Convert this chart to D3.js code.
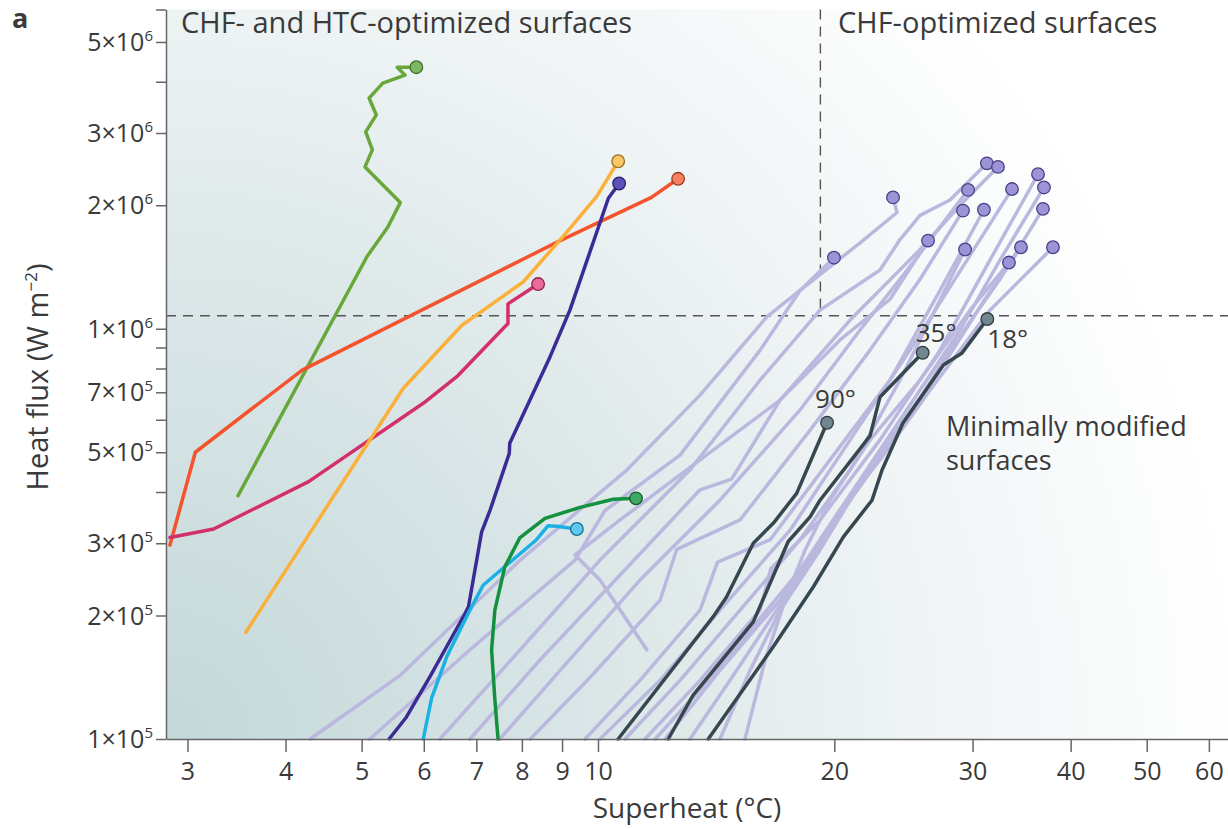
<!DOCTYPE html>
<html>
<head>
<meta charset="utf-8">
<script src="https://cdn.jsdelivr.net/npm/d3@7/dist/d3.min.js"></script>
<style>
  body { margin: 0; background: #fff; }
  svg text { font-family: "Open Sans", sans-serif; fill: #3a3a3a; }
</style>
</head>
<body>
<svg id="chart" width="1228" height="829"></svg>
<script>
// superheat (°C), heat flux (W m^-2)
const xTickValues = [3, 4, 5, 6, 7, 8, 9, 10, 20, 30, 40, 50, 60];
const yMajorTicks = [1e5, 2e5, 3e5, 5e5, 7e5, 1e6, 2e6, 3e6, 5e6];
const yMinorTicks = [4e5, 6e5, 8e5, 9e5, 4e6, 6e6];

// CHF- and HTC-optimized surfaces
const greenLight = [[3.48,3.92e5],[5.08,1.5e6],[5.40,1.77e6],[5.60,2.03e6],[5.05,2.48e6],[5.16,2.73e6],[5.06,3.02e6],[5.22,3.32e6],[5.11,3.65e6],[5.32,3.97e6],[5.68,4.15e6],[5.55,4.34e6],[5.87,4.34e6]];
const redOrange = [[2.85,2.97e5],[3.07,5.0e5],[4.2,7.93e5],[8.95,1.64e6],[11.7,2.09e6],[12.65,2.32e6]];
const magenta = [[2.85,3.1e5],[3.24,3.25e5],[4.28,4.24e5],[5.99,6.58e5],[6.61,7.64e5],[7.68,1.03e6],[7.68,1.15e6],[8.39,1.285e6]];
const yellow = [[3.56,1.82e5],[5.65,7.16e5],[6.71,1.02e6],[8.03,1.3e6],[9.03,1.68e6],[9.96,2.1e6],[10.61,2.56e6]];
const indigo = [[5.42,1.0e5],[5.7,1.13e5],[6.11,1.42e5],[6.77,2.02e5],[6.84,2.1e5],[7.11,3.2e5],[7.29,3.62e5],[7.71,4.97e5],[7.72,5.26e5],[8.69,8.55e5],[9.21,1.11e6],[10.31,2.08e6],[10.64,2.26e6]];
const cyan = [[5.99,1.0e5],[6.14,1.26e5],[6.42,1.59e5],[6.84,2.03e5],[7.14,2.37e5],[8.35,3.06e5],[8.64,3.31e5],[8.86,3.3e5],[9.4,3.25e5]];
const greenDark = [[7.46,1.0e5],[7.39,1.25e5],[7.32,1.65e5],[7.39,2.06e5],[7.61,2.63e5],[7.95,3.09e5],[8.56,3.45e5],[9.49,3.67e5],[10.46,3.84e5],[11.18,3.86e5]];

// minimally modified surfaces, contact angle labelled
const slate90 = [[10.61,1.0e5],[14.03,1.99e5],[14.58,2.22e5],[15.77,3.0e5],[16.73,3.36e5],[17.91,3.97e5],[19.58,5.9e5]];
const slate35 = [[12.29,1.0e5],[13.22,1.28e5],[15.77,1.93e5],[17.47,3.03e5],[18.63,3.48e5],[19.18,3.82e5],[22.21,5.48e5],[22.87,6.82e5],[25.92,8.74e5]];
const slate18 = [[13.82,1.0e5],[16.73,1.68e5],[18.81,2.35e5],[20.54,3.11e5],[22.34,3.82e5],[23.0,4.52e5],[24.46,5.89e5],[27.54,8.16e5],[29.06,8.71e5],[31.33,1.056e6]];

// CHF-optimized surfaces (lavender bundle)
const lavA = [[4.30,1.0e5],[5.60,1.43e5],[7.96,2.73e5],[10.89,4.53e5],[13.49,6.89e5],[16.42,1.07e6],[21.57,1.62e6],[24.04,1.92e6],[23.76,2.09e6]];
const lavB = [[5.12,1e5],[6.87,1.65e5],[9.35,2.73e5],[10.2,3.6e5],[12.72,4.92e5],[16.09,8.87e5],[18.09,1.24e6],[19.98,1.49e6]];
const lavC = [[6.29,1e5],[7.96,1.65e5],[10.06,2.73e5],[13.1,4.53e5],[16.09,7.5e5],[19.18,1.11e6],[22.87,1.39e6],[24.25,1.65e6],[25.72,1.89e6],[28.08,2.06e6],[31.29,2.53e6]];
const lavD = [[6.87,1e5],[8.44,1.56e5],[10.67,2.51e5],[13.49,4.05e5],[14.8,4.3e5],[17.06,6.7e5],[20.95,1.05e6],[25.72,1.56e6],[28.92,2.0e6],[32.32,2.48e6]];
const lavE = [[7.5,1e5],[8.95,1.47e5],[11.31,2.44e5],[14.3,3.82e5],[18.09,6.34e5],[21.57,9.93e5],[25.34,1.47e6],[29.61,2.18e6]];
const lavF = [[8.2,1e5],[9.83,1.43e5],[12.0,2.18e5],[12.6,2.9e5],[15.17,3.42e5],[18.63,5.66e5],[22.21,8.87e5],[25.72,1.32e6],[29.17,1.94e6]];
const lavG = [[11.54,1.65e5],[10.06,2.44e5],[9.35,2.81e5],[10.67,3.42e5],[13.49,4.79e5],[17.06,6.7e5],[20.34,9.39e5],[23.55,1.18e6],[26.33,1.64e6]];
const lavH = [[9.63,1e5],[11.31,1.39e5],[13.49,2.06e5],[14.2,2.7e5],[16.57,3.06e5],[19.75,4.79e5],[23.55,7.5e5],[27.27,1.24e6],[31.02,1.95e6]];
const lavI = [[10.06,1e5],[12.0,1.39e5],[14.3,2.06e5],[17.57,3.23e5],[20.95,5.36e5],[24.97,8.87e5],[29.78,1.51e6],[33.68,2.19e6]];
const lavJ = [[10.83,1e5],[12.72,1.39e5],[15.17,2.06e5],[18.09,3.06e5],[20.95,4.53e5],[24.25,7.5e5],[26.87,1.11e6],[29.35,1.56e6]];
const lavK = [[11.48,1e5],[13.49,1.39e5],[16.09,2.06e5],[16.6,2.6e5],[19.18,3.42e5],[22.87,5.36e5],[27.27,8.87e5],[31.57,1.47e6],[36.35,2.38e6]];
const lavL = [[12.18,1e5],[14.3,1.47e5],[17.06,2.18e5],[20.34,3.62e5],[24.25,5.99e5],[28.92,9.93e5],[32.51,1.47e6],[36.99,2.21e6]];
const lavM = [[13.1,1e5],[14.73,1.39e5],[16.57,1.95e5],[18.63,2.73e5],[20.95,3.82e5],[24.25,5.66e5],[28.08,8.87e5],[32.51,1.32e6],[36.88,1.96e6]];
const lavN = [[14.3,1e5],[15.62,1.47e5],[17.06,2.06e5],[19.18,2.89e5],[20.95,3.82e5],[23.55,5.36e5],[27.27,7.93e5],[31.11,1.18e6],[34.58,1.58e6]];
const lavO = [[15.39,1e5],[16.33,1.56e5],[17.31,2.18e5],[18.36,2.89e5],[19.75,3.82e5],[22.21,5.36e5],[25.72,7.5e5],[29.78,1.11e6],[33.38,1.45e6]];
const lavP = [[11.83,1e5],[13.49,1.32e5],[15.62,1.84e5],[18.09,2.58e5],[20.34,3.62e5],[22.87,4.79e5],[26.49,7.09e5],[31.57,1.11e6],[37.98,1.58e6]];

const chfLimit = 1.076e6;    // horizontal dashed line
const superheatSplit = 19.2; // vertical dashed line

const svg = d3.select("#chart");
const plotLeft = 166, plotRight = 1228, plotTop = 9.5, plotBottom = 739;

const x = d3.scaleLog().domain([2.817, 63.46]).range([plotLeft, plotRight]);
const y = d3.scaleLog().domain([1e5, 6e6]).range([plotBottom, plotTop]);

// background wash
const defs = svg.append("defs");
const grad = defs.append("radialGradient")
    .attr("id", "wash")
    .attr("gradientUnits", "userSpaceOnUse")
    .attr("cx", plotLeft).attr("cy", plotBottom).attr("r", 1080);
grad.append("stop").attr("offset", 0).attr("stop-color", "#c4d8d9");
grad.append("stop").attr("offset", 0.4).attr("stop-color", "#dae6e7");
grad.append("stop").attr("offset", 0.68).attr("stop-color", "#eef3f4");
grad.append("stop").attr("offset", 1).attr("stop-color", "#ffffff");

svg.append("rect")
    .attr("x", plotLeft).attr("y", plotTop)
    .attr("width", plotRight - plotLeft).attr("height", plotBottom - plotTop)
    .attr("fill", "url(#wash)");

// dashed guides
svg.append("line")
    .attr("x1", plotLeft).attr("x2", plotRight)
    .attr("y1", y(chfLimit)).attr("y2", y(chfLimit))
    .attr("stroke", "#555").attr("stroke-width", 1.4)
    .attr("stroke-dasharray", "10,7");
svg.append("line")
    .attr("x1", x(superheatSplit)).attr("x2", x(superheatSplit))
    .attr("y1", y(6e6)).attr("y2", y(chfLimit))
    .attr("stroke", "#555").attr("stroke-width", 1.4)
    .attr("stroke-dasharray", "10,7");

const line = d3.line().x(d => x(d[0])).y(d => y(d[1]));

function drawSeries(data, color, width) {
    svg.append("path")
        .datum(data)
        .attr("d", line)
        .attr("fill", "none")
        .attr("stroke", color)
        .attr("stroke-width", width)
        .attr("stroke-linejoin", "round")
        .attr("stroke-linecap", "round");
}

function drawEnd(data, fill, stroke) {
    const last = data[data.length - 1];
    svg.append("circle")
        .attr("cx", x(last[0])).attr("cy", y(last[1]))
        .attr("r", 6.3)
        .attr("fill", fill)
        .attr("stroke", stroke)
        .attr("stroke-width", 1.3);
}

const lavender = [lavA, lavB, lavC, lavD, lavE, lavF, lavG, lavH, lavI, lavJ, lavK, lavL, lavM, lavN, lavO, lavP];
lavender.forEach(d => drawSeries(d, "#bab8de", 3.5));

[slate90, slate35, slate18].forEach(d => drawSeries(d, "#36474f", 3.5));

const coloured = [
    { data: greenLight, color: "#68a83b", fill: "#7cb862", stroke: "#3f6d2a" },
    { data: redOrange, color: "#f4532c", fill: "#f7805f", stroke: "#9c3a22" },
    { data: magenta, color: "#d3306b", fill: "#ea6a9b", stroke: "#8c2349" },
    { data: yellow, color: "#fbb03a", fill: "#f9c764", stroke: "#9a7026" },
    { data: indigo, color: "#3a2b95", fill: "#5d51b9", stroke: "#2a1f6c" },
    { data: cyan, color: "#1bb1e5", fill: "#5ec8ef", stroke: "#1a6e90" },
    { data: greenDark, color: "#12913e", fill: "#3fa862", stroke: "#1b5a30" }
];
coloured.forEach(c => drawSeries(c.data, c.color, 3.5));

lavender.forEach(d => drawEnd(d, "#9c94d6", "#4a4088"));
[slate90, slate35, slate18].forEach(d => drawEnd(d, "#728690", "#2e3b41"));
coloured.forEach(c => drawEnd(c.data, c.fill, c.stroke));

// axes
const xAxis = d3.axisBottom(x)
    .tickValues(xTickValues)
    .tickFormat(d3.format("d"))
    .tickSizeInner(13).tickSizeOuter(0).tickPadding(6);
const gx = svg.append("g").attr("transform", `translate(0,${plotBottom})`).call(xAxis);
gx.select(".domain").attr("stroke", "#666").attr("stroke-width", 1.5);
gx.selectAll(".tick line").attr("stroke", "#666").attr("stroke-width", 1.5);
gx.selectAll(".tick text").attr("font-size", 25).attr("fill", "#3a3a3a")
    .attr("font-family", "Open Sans, sans-serif").attr("dy", "0.88em");

const yAxis = d3.axisLeft(y)
    .tickValues(yMajorTicks.concat(yMinorTicks))
    .tickFormat("")
    .tickSizeInner(10).tickSizeOuter(0);
const gy = svg.append("g").attr("transform", `translate(${plotLeft},0)`).call(yAxis);
gy.select(".domain").attr("stroke", "#666").attr("stroke-width", 1.5);
gy.selectAll(".tick line").attr("stroke", "#666").attr("stroke-width", 1.5);

const yLabels = svg.append("g");
yMajorTicks.forEach(v => {
    const e = Math.floor(Math.log10(v) + 1e-9);
    const m = Math.round(v / Math.pow(10, e));
    const t = yLabels.append("text")
        .attr("x", plotLeft - 13)
        .attr("y", y(v) + 9)
        .attr("text-anchor", "end")
        .attr("font-size", 25);
    t.append("tspan").text(m + "\u00d710");
    t.append("tspan").attr("dy", -10).attr("font-size", 15).text(e);
});

// titles and annotations
svg.append("text")
    .attr("x", 687).attr("y", 818)
    .attr("text-anchor", "middle")
    .attr("font-size", 28)
    .text("Superheat (\u00b0C)");

const yt = svg.append("text")
    .attr("transform", "translate(48,377) rotate(-90)")
    .attr("text-anchor", "middle")
    .attr("font-size", 29);
yt.append("tspan").text("Heat flux (W m");
yt.append("tspan").attr("dy", -11).attr("font-size", 17).text("\u22122");
yt.append("tspan").attr("dy", 11).text(")");

svg.append("text")
    .attr("x", 12).attr("y", 28)
    .attr("font-size", 27).attr("font-weight", "bold")
    .attr("fill", "#333")
    .text("a");

svg.append("text")
    .attr("x", 181).attr("y", 33)
    .attr("font-size", 29)
    .text("CHF- and HTC-optimized surfaces");

svg.append("text")
    .attr("x", 838).attr("y", 33)
    .attr("font-size", 29)
    .text("CHF-optimized surfaces");

const angleLabels = [
    { text: "90\u00b0", at: slate90, dx: -12, dy: -15 },
    { text: "35\u00b0", at: slate35, dx: -7, dy: -11 },
    { text: "18\u00b0", at: slate18, dx: 0, dy: 29 }
];
angleLabels.forEach(a => {
    const last = a.at[a.at.length - 1];
    svg.append("text")
        .attr("x", x(last[0]) + a.dx)
        .attr("y", y(last[1]) + a.dy)
        .attr("font-size", 26)
        .text(a.text);
});

svg.append("text").attr("font-size", 27)
    .attr("x", 946).attr("y", 436).text("Minimally modified");
svg.append("text").attr("font-size", 27)
    .attr("x", 946).attr("y", 470).text("surfaces");
</script>
</body>
</html>
